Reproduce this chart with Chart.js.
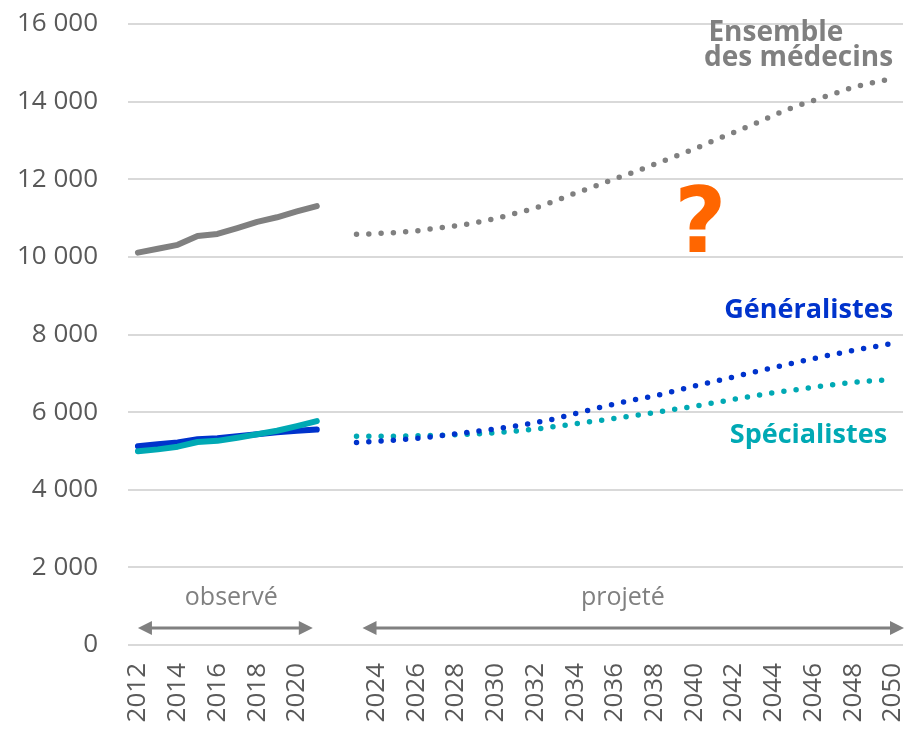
<!DOCTYPE html>
<html>
<head>
<meta charset="utf-8">
<script src="https://cdn.jsdelivr.net/npm/chart.js@4/dist/chart.umd.min.js"></script>
<style>
  body { margin: 0; background: #fff; }
  #wrap { width: 906px; height: 731px; }
</style>
</head>
<body>
<div id="wrap"><canvas id="medecins"></canvas></div>
<script>
// years on the axis (one category per year)
var years = [];
for (var y = 2012; y <= 2050; y++) years.push(y);

// observed 2012-2021
var obsEnsemble     = [10110, 10210, 10310, 10540, 10590, 10740, 10900, 11020, 11170, 11310];
var obsGeneralistes = [5120, 5170, 5220, 5300, 5330, 5380, 5430, 5480, 5520, 5550];
var obsSpecialistes = [4990, 5040, 5110, 5230, 5260, 5340, 5430, 5520, 5640, 5770];

// projected 2023-2050
var projEnsemble = [10580, 10600, 10625, 10670, 10740, 10800, 10880, 10990, 11120, 11260,
                    11440, 11640, 11820, 12010, 12190, 12390, 12580, 12780, 13000, 13210,
                    13420, 13650, 13860, 14030, 14200, 14370, 14490, 14600];
var projGeneralistes = [5220, 5250, 5280, 5320, 5380, 5440, 5500, 5570, 5640, 5730,
                        5830, 5960, 6090, 6210, 6320, 6420, 6540, 6670, 6790, 6910,
                        7030, 7150, 7270, 7380, 7490, 7590, 7680, 7770];
var projSpecialistes = [5380, 5380, 5380, 5390, 5400, 5420, 5440, 5470, 5510, 5560,
                        5630, 5700, 5770, 5840, 5910, 5990, 6070, 6150, 6240, 6330,
                        6420, 6500, 6570, 6640, 6710, 6770, 6810, 6840];

var obsStart = 2012, projStart = 2023;

var GRAY = '#808080', BLUE = '#0033cc', TEAL = '#00a9b4', ORANGE = '#ff6600';

// put a series on the full year axis, null elsewhere
function place(values, start) {
    return years.map(function(yr) {
        var i = yr - start;
        return (i >= 0 && i < values.length) ? values[i] : null;
    });
}

function solid(data, color) {
    return { data: data, borderColor: color, backgroundColor: color, borderWidth: 6,
             pointRadius: 0, tension: 0, fill: false, spanGaps: false,
             borderCapStyle: 'round', borderJoinStyle: 'round' };
}
function dotted(data, color) {
    var d = solid(data, color);
    d.borderWidth = 5.5;
    d.borderDash = [0, 12.3];
    return d;
}

// texts, arrows and the question mark
var annotations = {
    id: 'annotations',
    afterDatasetsDraw: function(chart) {
        var c = chart.ctx, xs = chart.scales.x, ys = chart.scales.y;
        var px = function(yr) { return xs.getPixelForValue(yr - 2012); };
        var py = function(v) { return ys.getPixelForValue(v); };

        function arrow(x1, x2, yy) {
            c.save();
            c.strokeStyle = GRAY; c.fillStyle = GRAY; c.lineWidth = 3;
            c.beginPath(); c.moveTo(x1 + 10, yy); c.lineTo(x2 - 10, yy); c.stroke();
            c.beginPath(); c.moveTo(x1, yy); c.lineTo(x1 + 14, yy - 7); c.lineTo(x1 + 14, yy + 7); c.closePath(); c.fill();
            c.beginPath(); c.moveTo(x2, yy); c.lineTo(x2 - 14, yy - 7); c.lineTo(x2 - 14, yy + 7); c.closePath(); c.fill();
            c.restore();
        }
        function text(str, x, yy, font, color, align, baseline) {
            c.save();
            c.font = font; c.fillStyle = color;
            c.textAlign = align || 'center'; c.textBaseline = baseline || 'middle';
            c.fillText(str, x, yy);
            c.restore();
        }

        arrow(px(2012), px(2020.8), py(440));
        arrow(px(2023.3), px(2050.55), py(440));
        text('observé', px(2016.7), py(1210), '25px "Open Sans"', GRAY);
        text('projeté', px(2036.4), py(1210), '25px "Open Sans"', GRAY);

        text('Ensemble', px(2044.1), py(15760), 'bold 28px "Open Sans"', GRAY);
        text('des médecins', px(2050), py(15120), 'bold 28px "Open Sans"', GRAY, 'right');
        text('Généralistes', px(2050), py(8630), 'bold 27px "Open Sans"', BLUE, 'right');
        text('Spécialistes', px(2049.7), py(5390), 'bold 27px "Open Sans"', TEAL, 'right');
        text('?', px(2040.3), py(10130), 'bold 90px "DejaVu Sans"', ORANGE, 'center', 'alphabetic');
    }
};

var ctx = document.getElementById('medecins').getContext('2d');
var chart = new Chart(ctx, {
    type: 'line',
    data: {
        labels: years.map(String),
        datasets: [
            solid(place(obsSpecialistes, obsStart), TEAL),
            solid(place(obsGeneralistes, obsStart), BLUE),
            solid(place(obsEnsemble, obsStart), GRAY),
            dotted(place(projGeneralistes, projStart), BLUE),
            dotted(place(projSpecialistes, projStart), TEAL),
            dotted(place(projEnsemble, projStart), GRAY)
        ]
    },
    options: {
        responsive: true,
        maintainAspectRatio: false,
        animation: false,
        layout: { padding: { top: 24, right: 3, left: 0, bottom: 0 } },
        plugins: { legend: { display: false }, tooltip: { enabled: false } },
        scales: {
            x: {
                offset: true,
                grid: { display: false, drawTicks: false },
                border: { display: false },
                ticks: {
                    autoSkip: false, minRotation: 90, maxRotation: 90, padding: 18,
                    color: '#595959', font: { family: 'Open Sans', size: 26 },
                    callback: function(v, i) {
                        var yr = years[i];
                        return (yr % 2 === 0 && yr !== 2022) ? String(yr) : '';
                    }
                },
                afterFit: function(s) { s.height = 86; s.paddingLeft = 0; s.paddingRight = 0; }
            },
            y: {
                min: 0, max: 16000,
                grid: { color: '#d9d9d9', lineWidth: 2, drawTicks: false },
                border: { display: false },
                ticks: {
                    stepSize: 2000, padding: 30,
                    color: '#595959', font: { family: 'Open Sans', size: 26 },
                    callback: function(v) { return String(v).replace(/\B(?=(\d{3})+(?!\d))/g, ' '); }
                },
                afterFit: function(s) { s.width = 128; s.paddingTop = 0; s.paddingBottom = 0; }
            }
        }
    },
    plugins: [annotations]
});
</script>
</body>
</html>
